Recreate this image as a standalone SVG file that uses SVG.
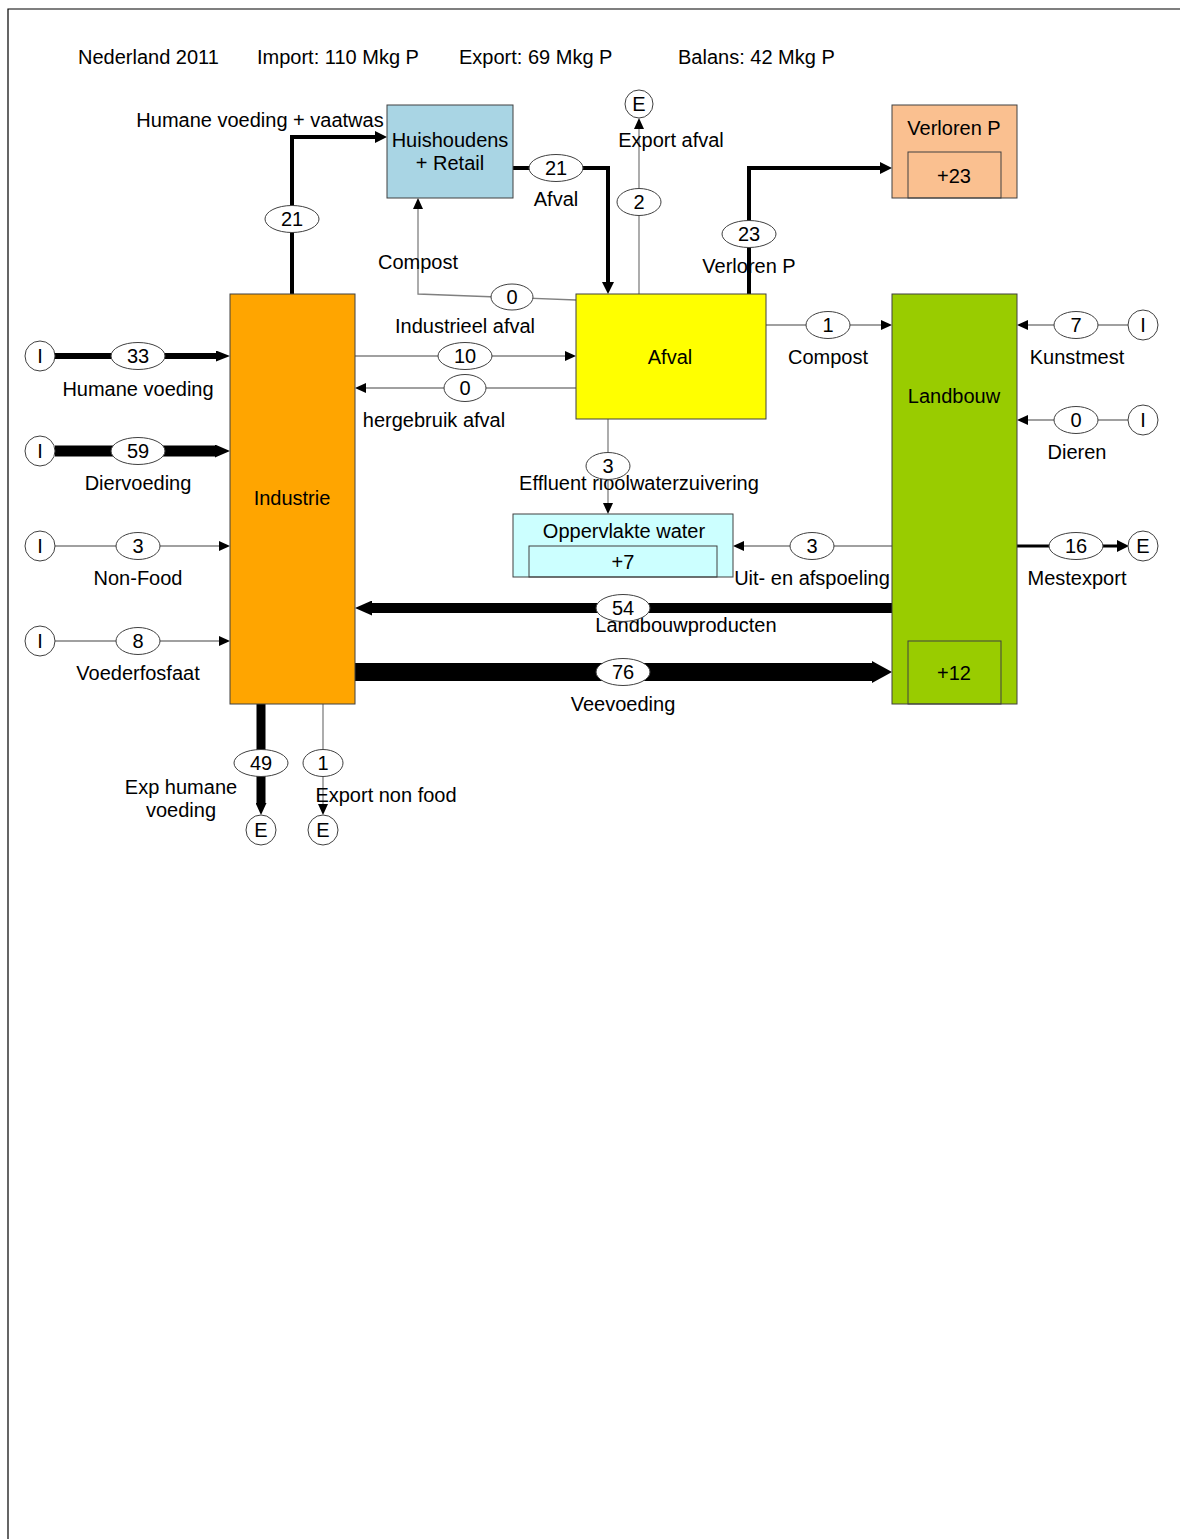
<svg xmlns="http://www.w3.org/2000/svg" width="1180" height="1539" viewBox="0 0 1180 1539">
<style>
text{font-family:"Liberation Sans",Arial,sans-serif;font-size:20px;fill:#000;text-anchor:middle}
.st{text-anchor:start}
.box{stroke:#404040;stroke-width:1}
.thin{fill:none;stroke:#808080;stroke-width:1.3}
.thick{fill:none;stroke:#000}
.ov{fill:#fff;stroke:#404040;stroke-width:1}
</style>
<defs>
<marker id="as" markerUnits="userSpaceOnUse" markerWidth="11" markerHeight="10" viewBox="0 0 11 10" refX="0" refY="5" orient="auto"><path d="M0,0 L11,5 L0,10 z" fill="#000"/></marker>
<marker id="am" markerUnits="userSpaceOnUse" markerWidth="12" markerHeight="12" viewBox="0 0 12 12" refX="0" refY="6" orient="auto"><path d="M0,0 L12,6 L0,12 z" fill="#000"/></marker>
<marker id="a33" markerUnits="userSpaceOnUse" markerWidth="14" markerHeight="11" viewBox="0 0 14 11" refX="0" refY="5.5" orient="auto"><path d="M0,0 L14,5.5 L0,11 z" fill="#000"/></marker>
<marker id="a59" markerUnits="userSpaceOnUse" markerWidth="15" markerHeight="13" viewBox="0 0 15 13" refX="0" refY="6.5" orient="auto"><path d="M0,0 L15,6.5 L0,13 z" fill="#000"/></marker>
<marker id="a54" markerUnits="userSpaceOnUse" markerWidth="17" markerHeight="15" viewBox="0 0 17 15" refX="0" refY="7.5" orient="auto"><path d="M0,0 L17,7.5 L0,15 z" fill="#000"/></marker>
<marker id="a76" markerUnits="userSpaceOnUse" markerWidth="20" markerHeight="22" viewBox="0 0 20 22" refX="0" refY="11" orient="auto"><path d="M0,0 L20,11 L0,22 z" fill="#000"/></marker>
<marker id="a49" markerUnits="userSpaceOnUse" markerWidth="12" markerHeight="11" viewBox="0 0 12 11" refX="0" refY="5.5" orient="auto"><path d="M0,0 L12,5.5 L0,11 z" fill="#000"/></marker>
</defs>
<rect width="1180" height="1539" fill="#fff"/>
<path d="M8,1539 V9 H1180" fill="none" stroke="#000" stroke-width="1.2"/>
<g id="header">
<text class="st" x="78" y="64">Nederland 2011</text>
<text class="st" x="257" y="64">Import: 110 Mkg P</text>
<text class="st" x="459" y="64">Export: 69 Mkg P</text>
<text class="st" x="678" y="64">Balans: 42 Mkg P</text>
</g>
<g id="connectors">
<path class="thick" stroke-width="4" d="M292,294 V137 H375" marker-end="url(#am)"/>
<path class="thick" stroke-width="4" d="M513,168 H608 V282" marker-end="url(#am)"/>
<path class="thin" d="M576,300 L418,294 V209" marker-end="url(#as)"/>
<path class="thin" d="M639,294 V129" marker-end="url(#as)"/>
<path class="thick" stroke-width="4" d="M749,294 V168 H880" marker-end="url(#am)"/>
<path class="thin" d="M355,356 H565" marker-end="url(#as)"/>
<path class="thin" d="M576,388 H366" marker-end="url(#as)"/>
<path class="thin" d="M766,325 H881" marker-end="url(#as)"/>
<path class="thin" d="M1128,325 H1028" marker-end="url(#as)"/>
<path class="thin" d="M1128,420 H1028" marker-end="url(#as)"/>
<path class="thick" stroke-width="3" d="M1017,546 H1117" marker-end="url(#am)"/>
<path class="thin" d="M892,546 H744" marker-end="url(#as)"/>
<path class="thin" d="M608,419 V503" marker-end="url(#as)"/>
<path class="thick" stroke-width="10" d="M892,608 H372" marker-end="url(#a54)"/>
<path class="thick" stroke-width="18" d="M355,672 H872" marker-end="url(#a76)"/>
<path class="thick" stroke-width="6" d="M55,356 H216" marker-end="url(#a33)"/>
<path class="thick" stroke-width="11" d="M55,451 H215" marker-end="url(#a59)"/>
<path class="thin" d="M55,546 H219" marker-end="url(#as)"/>
<path class="thin" d="M55,641 H219" marker-end="url(#as)"/>
<path class="thick" stroke-width="9" d="M261,704 V803" marker-end="url(#a49)"/>
<path class="thin" d="M323,704 V804" marker-end="url(#as)"/>
<text x="260" y="127">Humane voeding + vaatwas</text>
<text x="556" y="206">Afval</text>
<text x="418" y="269">Compost</text>
<text x="671" y="147">Export afval</text>
<text x="749" y="273">Verloren P</text>
<text x="465" y="333">Industrieel afval</text>
<text x="434" y="427">hergebruik afval</text>
<text x="828" y="364">Compost</text>
<text x="1077" y="364">Kunstmest</text>
<text x="1077" y="459">Dieren</text>
<text x="1077" y="585">Mestexport</text>
<text x="812" y="585">Uit- en afspoeling</text>
<text x="639" y="490">Effluent rioolwaterzuivering</text>
<text x="686" y="632">Landbouwproducten</text>
<text x="623" y="711">Veevoeding</text>
<text x="138" y="396">Humane voeding</text>
<text x="138" y="490">Diervoeding</text>
<text x="138" y="585">Non-Food</text>
<text x="138" y="680">Voederfosfaat</text>
<text x="181" y="794">Exp humane</text>
<text x="181" y="817">voeding</text>
<text x="386" y="802">Export non food</text>
<g id="values">
<ellipse class="ov" cx="292" cy="219" rx="27" ry="13.5"/><text x="292" y="226">21</text>
<ellipse class="ov" cx="556" cy="168" rx="27" ry="13.5"/><text x="556" y="175">21</text>
<ellipse class="ov" cx="512" cy="297" rx="21" ry="13"/><text x="512" y="304">0</text>
<ellipse class="ov" cx="639" cy="202" rx="22" ry="13.5"/><text x="639" y="209">2</text>
<ellipse class="ov" cx="749" cy="234" rx="27" ry="13.5"/><text x="749" y="241">23</text>
<ellipse class="ov" cx="465" cy="356" rx="27" ry="13.5"/><text x="465" y="363">10</text>
<ellipse class="ov" cx="465" cy="388" rx="21" ry="13.5"/><text x="465" y="395">0</text>
<ellipse class="ov" cx="828" cy="325" rx="22" ry="13.5"/><text x="828" y="332">1</text>
<ellipse class="ov" cx="1076" cy="325" rx="22" ry="13.5"/><text x="1076" y="332">7</text>
<ellipse class="ov" cx="1076" cy="420" rx="22" ry="13.5"/><text x="1076" y="427">0</text>
<ellipse class="ov" cx="1076" cy="546" rx="27" ry="13.5"/><text x="1076" y="553">16</text>
<ellipse class="ov" cx="812" cy="546" rx="22" ry="13.5"/><text x="812" y="553">3</text>
<ellipse class="ov" cx="608" cy="466" rx="22" ry="13.5"/><text x="608" y="473">3</text>
<ellipse class="ov" cx="623" cy="608" rx="27" ry="13.5"/><text x="623" y="615">54</text>
<ellipse class="ov" cx="623" cy="672" rx="27" ry="13.5"/><text x="623" y="679">76</text>
<ellipse class="ov" cx="138" cy="356" rx="27" ry="13.5"/><text x="138" y="363">33</text>
<ellipse class="ov" cx="138" cy="451" rx="27" ry="13.5"/><text x="138" y="458">59</text>
<ellipse class="ov" cx="138" cy="546" rx="22" ry="13.5"/><text x="138" y="553">3</text>
<ellipse class="ov" cx="138" cy="641" rx="22" ry="13.5"/><text x="138" y="648">8</text>
<ellipse class="ov" cx="261" cy="763" rx="27" ry="13.5"/><text x="261" y="770">49</text>
<ellipse class="ov" cx="323" cy="763" rx="20" ry="13.5"/><text x="323" y="770">1</text>
</g>
</g>
<g id="huishoudens">
<rect class="box" x="387" y="105" width="126" height="93" fill="#A9D5E4"/>
<text x="450" y="147">Huishoudens</text>
<text x="450" y="170">+ Retail</text>
</g>
<g id="industrie">
<rect class="box" x="230" y="294" width="125" height="410" fill="#FFA500"/>
<text x="292" y="505">Industrie</text>
</g>
<g id="afval">
<rect class="box" x="576" y="294" width="190" height="125" fill="#FFFF00"/>
<text x="670" y="364">Afval</text>
</g>
<g id="landbouw">
<rect class="box" x="892" y="294" width="125" height="410" fill="#99CC00"/>
<text x="954" y="403">Landbouw</text>
<rect class="box" x="908" y="641" width="93" height="63" fill="none"/>
<text x="954" y="680">+12</text>
</g>
<g id="verloren">
<rect class="box" x="892" y="105" width="125" height="93" fill="#FAC090"/>
<text x="954" y="135">Verloren P</text>
<rect class="box" x="908" y="152" width="93" height="46" fill="none"/>
<text x="954" y="183">+23</text>
</g>
<g id="oppervlaktewater">
<rect class="box" x="513" y="514" width="220" height="63" fill="#CCFFFF"/>
<text x="624" y="538">Oppervlakte water</text>
<rect class="box" x="529" y="546" width="188" height="31" fill="none"/>
<text x="623" y="569">+7</text>
</g>
<g id="terminals">
<g id="i1"><circle class="ov" cx="40" cy="356" r="15"/><text x="40" y="363">I</text></g>
<g id="i2"><circle class="ov" cx="40" cy="451" r="15"/><text x="40" y="458">I</text></g>
<g id="i3"><circle class="ov" cx="40" cy="546" r="15"/><text x="40" y="553">I</text></g>
<g id="i4"><circle class="ov" cx="40" cy="641" r="15"/><text x="40" y="648">I</text></g>
<g id="i5"><circle class="ov" cx="1143" cy="325" r="15"/><text x="1143" y="332">I</text></g>
<g id="i6"><circle class="ov" cx="1143" cy="420" r="15"/><text x="1143" y="427">I</text></g>
<g id="e1"><circle class="ov" cx="1143" cy="546" r="15"/><text x="1143" y="553">E</text></g>
<g id="e2"><circle class="ov" cx="639" cy="104" r="14"/><text x="639" y="111">E</text></g>
<g id="e3"><circle class="ov" cx="261" cy="830" r="15"/><text x="261" y="837">E</text></g>
<g id="e4"><circle class="ov" cx="323" cy="830" r="15"/><text x="323" y="837">E</text></g>
</g>
</svg>
